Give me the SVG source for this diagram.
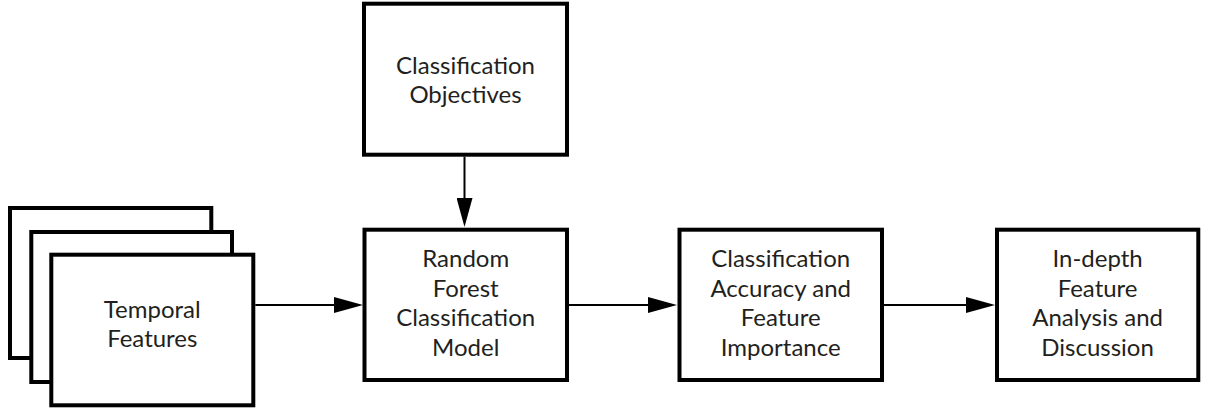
<svg xmlns="http://www.w3.org/2000/svg" width="1208" height="409" viewBox="0 0 1208 409">
  <style>
    .box { fill: #ffffff; stroke: #000000; stroke-width: 4; }
    .label { font-family: Lato, "Open Sans", "Noto Sans", sans-serif; font-size: 24px; fill: #231f20; text-anchor: middle; }
    .edge { stroke: #000000; stroke-width: 2; fill: none; marker-end: url(#head); }
  </style>
  <defs>
    <marker id="head" markerUnits="userSpaceOnUse" markerWidth="30" markerHeight="16" refX="1" refY="8" orient="auto">
      <path d="M0,0 L29,8 L0,16 Z" fill="#000000"/>
    </marker>
  </defs>

  <rect width="1208" height="409" fill="#ffffff"/>

  <!-- stacked input sheets -->
  <g id="temporal-features">
    <rect class="box" x="10" y="208" width="201.3" height="150"/>
    <rect class="box" x="31.3" y="232" width="200.7" height="150"/>
    <rect class="box" x="51.3" y="254.7" width="202" height="150.6"/>
    <text class="label" x="152.3" y="317.5">Temporal</text>
    <text class="label" x="152.3" y="347">Features</text>
  </g>

  <g id="classification-objectives">
    <rect class="box" x="364" y="3.7" width="203" height="151"/>
    <text class="label" x="465.5" y="74">Classification</text>
    <text class="label" x="465.5" y="103">Objectives</text>
  </g>

  <g id="random-forest">
    <rect class="box" x="364.5" y="229.7" width="202.5" height="150.3"/>
    <text class="label" x="465.7" y="267">Random</text>
    <text class="label" x="465.7" y="296.5">Forest</text>
    <text class="label" x="465.7" y="326">Classification</text>
    <text class="label" x="465.7" y="355.5">Model</text>
  </g>

  <g id="accuracy-importance">
    <rect class="box" x="679.5" y="229.7" width="202.5" height="150.3"/>
    <text class="label" x="780.7" y="267">Classification</text>
    <text class="label" x="780.7" y="296.5">Accuracy and</text>
    <text class="label" x="780.7" y="326">Feature</text>
    <text class="label" x="780.7" y="355.5">Importance</text>
  </g>

  <g id="feature-analysis">
    <rect class="box" x="997" y="229.7" width="201.3" height="150.3"/>
    <text class="label" x="1097.6" y="267">In-depth</text>
    <text class="label" x="1097.6" y="296.5">Feature</text>
    <text class="label" x="1097.6" y="326">Analysis and</text>
    <text class="label" x="1097.6" y="355.5">Discussion</text>
  </g>

  <g id="connectors">
    <line class="edge" x1="464.5" y1="156.7" x2="464.5" y2="199"/>
    <line class="edge" x1="255.3" y1="305" x2="335" y2="305"/>
    <line class="edge" x1="569" y1="305" x2="649" y2="305"/>
    <line class="edge" x1="884" y1="305" x2="967" y2="305"/>
  </g>
</svg>
